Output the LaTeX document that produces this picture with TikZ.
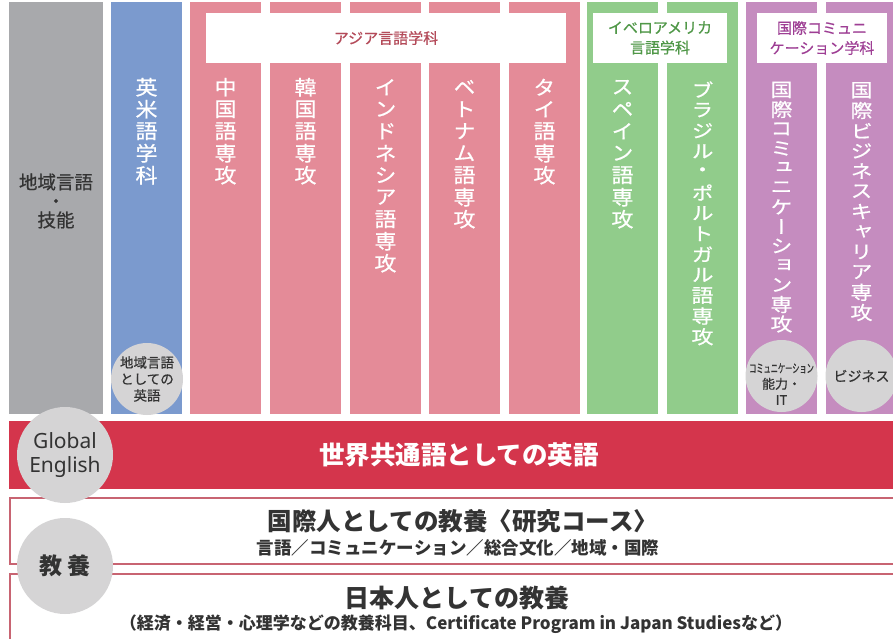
\documentclass[tikz,border=0pt]{standalone}
\usepackage{fontspec}
\usepackage{graphicx}
\setmainfont{Noto Sans CJK JP}
\newfontfamily\vfont[RawFeature={+vert},FakeBold=0.6]{Noto Sans CJK JP}
\newfontfamily\medfont[FakeBold=0.6]{Noto Sans CJK JP}
\newfontfamily\latinfont{Noto Sans}
\definecolor{cgray}{RGB}{168,169,172}
\definecolor{cblue}{RGB}{123,154,206}
\definecolor{cpink}{RGB}{228,139,152}
\definecolor{cgreen}{RGB}{145,204,139}
\definecolor{cpurple}{RGB}{197,140,191}
\definecolor{cred}{RGB}{212,53,76}
\definecolor{ccircle}{RGB}{213,212,213}
\definecolor{ctext}{RGB}{51,51,51}
\definecolor{hasia}{RGB}{180,75,90}
\definecolor{hibero}{RGB}{80,152,72}
\definecolor{hkoku}{RGB}{158,62,148}
\definecolor{boxline}{RGB}{200,100,114}
\makeatletter
\newlength\vpitch
\newcommand\vstack[3]{\vbox{\offinterlineskip\setlength\vpitch{#1}\def\vys{#2}\vstack@loop#3\relax}}
\def\vstack@loop#1{\ifx\relax#1\else\vbox to\vpitch{\vss\hbox to 1.2em{\hss\scalebox{1}[\vys]{#1}\hss}\vss}\expandafter\vstack@loop\fi}
\makeatother
\begin{document}
\begin{tikzpicture}[x=1pt,y=-1pt,
  colbox/.style={fill=#1,draw=none,inner sep=0,minimum width=71,minimum height=412,anchor=north west},
  hdrbox/.style={fill=white,draw=none,inner sep=0,minimum height=50,align=center,font=\medfont\fontsize{15}{20}\selectfont},
  vtxt/.style={anchor=north,inner sep=0,text=white,font=\vfont\fontsize{22}{22}\selectfont},
  bigcirc/.style={circle,fill=ccircle,draw=none,inner sep=0,minimum size=96,text=ctext,align=center},
  smallcirc/.style={circle,fill=ccircle,draw=none,inner sep=0,minimum size=72,text=ctext,align=center},
  layerbox/.style={fill=white,draw=boxline,line width=1.6,inner sep=0,anchor=north west,minimum width=900},
]
\useasboundingbox (0,0) rectangle (893,639);
\clip (0,0) rectangle (893,639);
% columns
\node[colbox=cgray,minimum width=94] (cGray) at (9,2) {};
\node[colbox=cblue] (cBlue) at (111,2) {};
\node[colbox=cpink] (cP1) at (190,2) {};
\node[colbox=cpink] (cP2) at (270,2) {};
\node[colbox=cpink] (cP3) at (350,2) {};
\node[colbox=cpink] (cP4) at (429,2) {};
\node[colbox=cpink] (cP5) at (509,2) {};
\node[colbox=cgreen] (cG1) at (587,2) {};
\node[colbox=cgreen] (cG2) at (667,2) {};
\node[colbox=cpurple] (cU1) at (746,2) {};
\node[colbox=cpurple] (cU2) at (826,2) {};
% headers
\node[hdrbox,minimum width=360,text=hasia] (hAsia) at (386,38) {アジア言語学科};
\node[hdrbox,minimum width=134,text=hibero] (hIbero) at (660,38) {イベロアメリカ\\言語学科};
\node[hdrbox,minimum width=130,text=hkoku] (hKoku) at (822,38) {国際コミュニ\\ケーション学科};
% gray column text
\node[inner sep=0,align=center,text=ctext,font=\medfont\fontsize{18.5}{19}\selectfont] (tGray) at (56,201) {地域言語\\・\\技能};
% vertical texts
\node[vtxt] (tEibei) at (146.5,76) {\vstack{22pt}{0.92}{英米語学科}};
\node[vtxt] (tChu) at (225.5,76) {\vstack{22pt}{0.92}{中国語専攻}};
\node[vtxt] (tKan) at (305.5,76) {\vstack{22pt}{0.92}{韓国語専攻}};
\node[vtxt] (tIndo) at (385.5,76) {\vstack{22pt}{0.92}{インドネシア語専攻}};
\node[vtxt] (tViet) at (464.5,76) {\vstack{22pt}{0.92}{ベトナム語専攻}};
\node[vtxt] (tThai) at (544.5,76) {\vstack{22pt}{0.92}{タイ語専攻}};
\node[vtxt] (tSpa) at (622.5,76) {\vstack{22pt}{0.92}{スペイン語専攻}};
\node[vtxt] (tBra) at (702.5,79) {\vstack{20.6pt}{0.85}{ブラジル・ポルトガル語専攻}};
\node[vtxt] (tKomi) at (781.5,80) {\vstack{19.5pt}{0.85}{国際コミュニケーション専攻}};
\node[vtxt] (tBiz) at (861.5,80) {\vstack{20.2pt}{0.85}{国際ビジネスキャリア専攻}};
% small circles
\node[smallcirc,font=\medfont\fontsize{13.5}{16.5}\selectfont] (sEi) at (147,379) {地域言語\\としての\\英語};
\node[smallcirc] (sKomi) at (781.5,376) {};
\node[inner sep=0,align=center,text=ctext,font=\medfont\fontsize{13}{16}\selectfont] (sKomiT) at (781.5,384) {\scalebox{0.6}[1]{\fontsize{12}{12}\selectfont コミュニケーション}\\能力・\\IT};
\node[smallcirc,font=\medfont\fontsize{14}{16}\selectfont] (sBiz) at (861.5,376) {ビジネス};
% layers
\node[layerbox,minimum height=66] (lKoku) at (9,497) {};
\node[layerbox,minimum height=80] (lNihon) at (9,573) {};
\node[fill=cred,draw=none,inner sep=0,anchor=north west,minimum width=890,minimum height=68] (band) at (9,421) {};
\node[inner sep=0,text=white,font=\bfseries\fontsize{25.5}{25}\selectfont] (tBand) at (459,455) {世界共通語としての英語};
\node[inner sep=0,text=ctext,font=\bfseries\fontsize{24.5}{24}\selectfont] (tKoku1) at (463,521) {国際人としての教養〈研究コース〉};
\node[inner sep=0,text=ctext,font=\bfseries\fontsize{17.5}{18}\selectfont] (tKoku2) at (458,548) {言語／コミュニケーション／総合文化／地域・国際};
\node[inner sep=0,text=ctext,font=\bfseries\fontsize{25}{25}\selectfont] (tNihon1) at (457,598) {日本人としての教養};
\node[inner sep=0,text=ctext,font=\bfseries\fontsize{17}{18}\selectfont] (tNihon2) at (456,624) {（経済・経営・心理学などの教養科目、Certificate Program in Japan Studiesなど）};
% big circles
\node[bigcirc,font=\latinfont\fontsize{21}{24}\selectfont] (cGE) at (65,455) {Global\\English};
\node[bigcirc,font=\bfseries\fontsize{23}{23}\selectfont] (cKyo) at (65,566) {教\hspace{5pt}養};
\end{tikzpicture}
\end{document}
